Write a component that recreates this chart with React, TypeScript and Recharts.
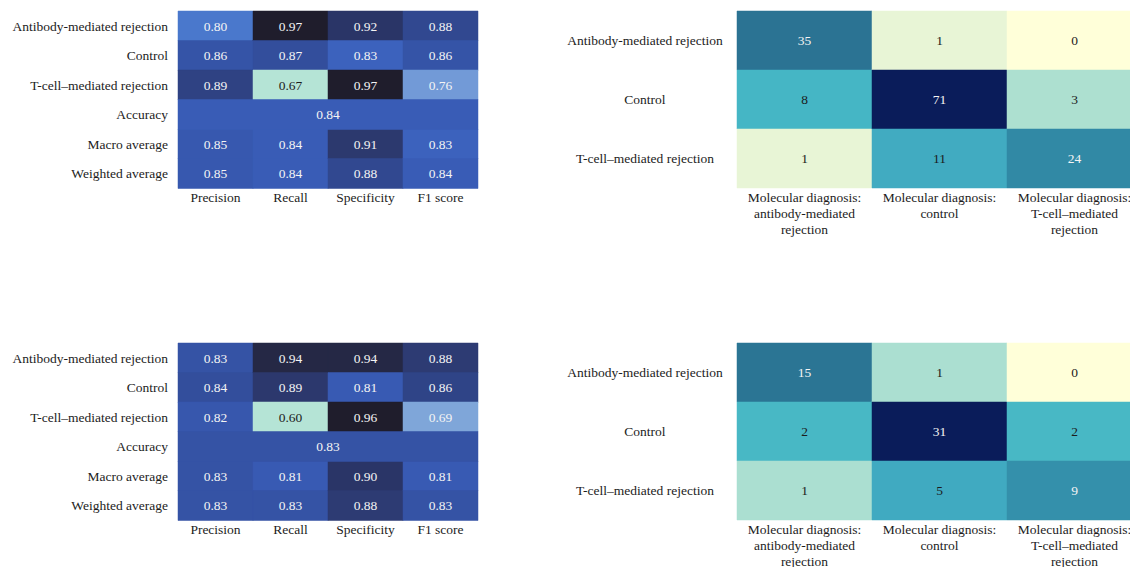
import React from "react"
import { BarChart, Bar, XAxis, YAxis, Cell, LabelList } from "recharts"

const metricLabels = ["Precision", "Recall", "Specificity", "F1 score"]
const classLabels = ["Antibody-mediated rejection", "Control", "T-cell–mediated rejection"]
const averageLabels = ["Macro average", "Weighted average"]
const predLabels = [
  ["Molecular diagnosis:", "antibody-mediated", "rejection"],
  ["Molecular diagnosis:", "control"],
  ["Molecular diagnosis:", "T-cell–mediated", "rejection"],
]

// per-class metrics (rows follow classLabels)
const classMetricsA = [
  [0.8, 0.97, 0.92, 0.88],
  [0.86, 0.87, 0.83, 0.86],
  [0.89, 0.67, 0.97, 0.76],
]
const averagesA = [
  [0.85, 0.84, 0.91, 0.83],
  [0.85, 0.84, 0.88, 0.84],
]
const accuracyA = 0.84

const classMetricsB = [
  [0.83, 0.94, 0.94, 0.88],
  [0.84, 0.89, 0.81, 0.86],
  [0.82, 0.6, 0.96, 0.69],
]
const averagesB = [
  [0.83, 0.81, 0.9, 0.81],
  [0.83, 0.83, 0.88, 0.83],
]
const accuracyB = 0.83

// confusion matrices: rows = reference diagnosis, cols = molecular diagnosis
const confusionA = [
  [35, 1, 0],
  [8, 71, 3],
  [1, 11, 24],
]
const confusionB = [
  [15, 1, 0],
  [2, 31, 2],
  [1, 5, 9],
]

const FONT = "'Liberation Serif', 'Times New Roman', serif"
const INK = "#1c1c1c"

type Stop = [number, string]

const hex = (c: string) => [1, 3, 5].map((i) => parseInt(c.slice(i, i + 2), 16))

function colormap(stops: Stop[]) {
  return (t: number) => {
    const v = Math.max(0, Math.min(1, t))
    for (let i = 1; i < stops.length; i++) {
      if (v <= stops[i][0]) {
        const [t0, c0] = stops[i - 1]
        const [t1, c1] = stops[i]
        const f = t1 === t0 ? 0 : (v - t0) / (t1 - t0)
        const a = hex(c0)
        const b = hex(c1)
        return `rgb(${a.map((x, k) => Math.round(x + (b[k] - x) * f)).join(",")})`
      }
    }
    return stops[stops.length - 1][1]
  }
}

const iceBlues = colormap([
  [0, "#b5e4d6"],
  [0.27, "#7ba1d9"],
  [0.43, "#4a79cd"],
  [0.55, "#3a5eba"],
  [0.62, "#3656ab"],
  [0.68, "#324c98"],
  [0.73, "#2f4384"],
  [0.78, "#2d3b72"],
  [0.84, "#2a3466"],
  [0.93, "#272b4c"],
  [1, "#1f1d2c"],
])

const ylGnBu = colormap([
  [0, "#ffffd9"],
  [0.014, "#e8f5d6"],
  [0.03, "#abdfd1"],
  [0.045, "#aee0d0"],
  [0.065, "#45b7c5"],
  [0.113, "#45b6c5"],
  [0.16, "#40aac1"],
  [0.3, "#338ea9"],
  [0.49, "#2b7493"],
  [1, "#0a1c5a"],
])

const cellLabel = (norm: (v: number) => number, cut: number, digits: number, size: number) =>
  (props: any) => {
    const { value } = props
    if (value === null || value === undefined) return null
    const x = props.x ?? props.viewBox?.x
    const y = props.y ?? props.viewBox?.y
    const w = props.width ?? props.viewBox?.width
    const h = props.height ?? props.viewBox?.height
    return (
      <text
        x={x + w / 2}
        y={y + h / 2}
        dy="0.36em"
        textAnchor="middle"
        fontFamily={FONT}
        fontSize={size}
        fill={norm(value) > cut ? "#f4f4f4" : INK}
      >
        {Number(value).toFixed(digits)}
      </text>
    )
  }

// plain single-line row label, anchored either at the end or centred some px left of the grid
const RowTick = (anchor: "end" | "middle", shift: number) => (props: any) => {
  const { x, y, payload } = props
  return (
    <text x={x - shift} y={y} dy="0.36em" textAnchor={anchor} fontFamily={FONT} fontSize={13.5} fill={INK}>
      {payload.value}
    </text>
  )
}

const reportRowTick = RowTick("end", 0)
const confusionRowTick = RowTick("middle", 92)

function Report({ classMetrics, averages, accuracy }: { classMetrics: number[][]; averages: number[][]; accuracy: number }) {
  const rows = [
    ...classLabels.map((row, i) => ({ row, vals: classMetrics[i] })),
    { row: "Accuracy", vals: null as number[] | null },
    ...averageLabels.map((row, i) => ({ row, vals: averages[i] })),
  ]
  const all = [...classMetrics.flat(), ...averages.flat(), accuracy]
  const lo = Math.min(...all)
  const hi = Math.max(...all)
  const norm = (v: number) => (v - lo) / (hi - lo)

  const data = rows.map(({ row, vals }) => {
    const d: any = { row, acc: vals ? 0 : metricLabels.length, vacc: vals ? null : accuracy }
    metricLabels.forEach((_, j) => {
      d["m" + j] = vals ? 1 : 0
      d["v" + j] = vals ? vals[j] : null
    })
    return d
  })

  const fillFor = (v: number | null) => (v === null ? "none" : iceBlues(norm(v)))
  const label = cellLabel(norm, 0.15, 2, 13.5)

  return (
    <BarChart
      width={490}
      height={240}
      data={data}
      layout="vertical"
      barCategoryGap={0}
      barGap={0}
      margin={{ top: 11, right: 12, left: 0, bottom: 12 }}
      style={{ fontFamily: FONT }}
    >
      <XAxis
        type="number"
        domain={[0, metricLabels.length]}
        ticks={metricLabels.map((_, j) => j + 0.5)}
        tickFormatter={(v: number) => metricLabels[Math.floor(v)]}
        interval={0}
        height={40}
        axisLine={false}
        tickLine={false}
        tickSize={0}
        tickMargin={4}
        tick={{ fill: INK, fontSize: 13.5, fontFamily: FONT }}
      />
      <YAxis
        type="category"
        dataKey="row"
        width={178}
        interval={0}
        axisLine={false}
        tickLine={false}
        tickSize={0}
        tickMargin={10}
        tick={reportRowTick}
      />
      {metricLabels.map((_, j) => (
        <Bar key={j} dataKey={"m" + j} stackId="s" isAnimationActive={false}>
          {data.map((d, i) => (
            <Cell key={i} fill={fillFor(d["v" + j])} stroke={fillFor(d["v" + j])} strokeWidth={0.5} />
          ))}
          <LabelList dataKey={"v" + j} content={label} />
        </Bar>
      ))}
      <Bar dataKey="acc" stackId="s" isAnimationActive={false}>
        {data.map((d, i) => (
          <Cell key={i} fill={fillFor(d.vacc)} stroke={fillFor(d.vacc)} strokeWidth={0.5} />
        ))}
        <LabelList dataKey="vacc" content={label} />
      </Bar>
    </BarChart>
  )
}

const PredTick = (props: any) => {
  const { x, y, payload } = props
  const lines = predLabels[Math.floor(payload.value)] || []
  return (
    <text x={x} y={y} textAnchor="middle" fontFamily={FONT} fontSize={13.5} fill={INK}>
      {lines.map((l, k) => (
        <tspan key={k} x={x} dy={k === 0 ? "0.71em" : 16}>
          {l}
        </tspan>
      ))}
    </text>
  )
}

function Confusion({ matrix }: { matrix: number[][] }) {
  const max = Math.max(...matrix.flat())
  const norm = (v: number) => v / max
  const data = classLabels.map((row, i) => {
    const d: any = { row }
    predLabels.forEach((_, j) => {
      d["m" + j] = 1
      d["v" + j] = matrix[i][j]
    })
    return d
  })
  const label = cellLabel(norm, 0.2, 0, 13.5)

  return (
    <BarChart
      width={582}
      height={240}
      data={data}
      layout="vertical"
      barCategoryGap={0}
      barGap={0}
      margin={{ top: 11, right: 0, left: 0, bottom: 12 }}
      style={{ fontFamily: FONT }}
    >
      <XAxis
        type="number"
        domain={[0, predLabels.length]}
        ticks={predLabels.map((_, j) => j + 0.5)}
        interval={0}
        height={40}
        axisLine={false}
        tickLine={false}
        tickSize={0}
        tickMargin={4}
        tick={<PredTick />}
      />
      <YAxis
        type="category"
        dataKey="row"
        width={177}
        interval={0}
        axisLine={false}
        tickLine={false}
        tickSize={0}
        tickMargin={0}
        tick={confusionRowTick}
      />
      {predLabels.map((_, j) => (
        <Bar key={j} dataKey={"m" + j} stackId="s" isAnimationActive={false}>
          {data.map((d, i) => (
            <Cell key={i} fill={ylGnBu(norm(d["v" + j]))} stroke={ylGnBu(norm(d["v" + j]))} strokeWidth={0.5} />
          ))}
          <LabelList dataKey={"v" + j} content={label} />
        </Bar>
      ))}
    </BarChart>
  )
}

export default function App() {
  return (
    <div
      style={{
        position: "fixed",
        left: 0,
        top: 0,
        width: 1130,
        height: 567,
        overflow: "hidden",
        background: "#ffffff",
      }}
    >
      <div style={{ position: "absolute", left: 0, top: 0 }}>
        <Report classMetrics={classMetricsA} averages={averagesA} accuracy={accuracyA} />
      </div>
      <div style={{ position: "absolute", left: 560, top: 0 }}>
        <Confusion matrix={confusionA} />
      </div>
      <div style={{ position: "absolute", left: 0, top: 332 }}>
        <Report classMetrics={classMetricsB} averages={averagesB} accuracy={accuracyB} />
      </div>
      <div style={{ position: "absolute", left: 560, top: 332 }}>
        <Confusion matrix={confusionB} />
      </div>
    </div>
  )
}
